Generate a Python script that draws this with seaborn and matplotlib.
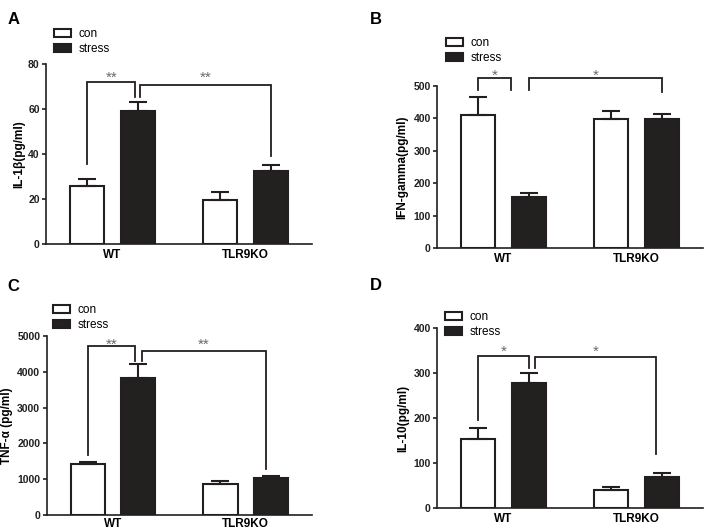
import numpy as np
import pandas as pd
import matplotlib
matplotlib.use("Agg")
import matplotlib.pyplot as plt
import seaborn as sns

# ---------------- data ----------------
genotypes = ["WT", "TLR9KO"]
conditions = ["con", "stress"]

a_con = [25.9, 19.4]
a_stress = [59.0, 32.3]
a_con_err = [2.8, 3.7]
a_stress_err = [4.3, 2.8]

b_con = [410, 397]
b_stress = [159, 397]
b_con_err = [57, 27]
b_stress_err = [12, 16]

c_con = [1415, 875]
c_stress = [3818, 1024]
c_con_err = [75, 75]
c_stress_err = [390, 56]

d_con = [155, 40]
d_stress = [278, 70]
d_con_err = [23, 7.4]
d_stress_err = [23, 7.4]

ylabels = ["IL-1β(pg/ml)", "IFN-gamma(pg/ml)", "TNF-α (pg/ml)", "IL-10(pg/ml)"]
panel_letters = ["A", "B", "C", "D"]
yticks_list = [[0, 20, 40, 60, 80], [0, 100, 200, 300, 400, 500],
               [0, 1000, 2000, 3000, 4000, 5000], [0, 100, 200, 300, 400]]

# significance brackets: (left leg bottom, top, right leg bottom, star centre y, label)
a_brackets = [(35.7, 72.0, 65.3, 75.4, "**"), (65.3, 70.5, 39.0, 75.4, "**")]
b_brackets = [(488, 526, 488, 544, "*"), (488, 526, 483, 544, "*")]
c_brackets = [(1676, 4720, 4311, 4860, "**"), (4311, 4590, 1284, 4860, "**")]
d_brackets = [(196, 339, 311, 355.6, "*"), (311, 336, 120, 355.6, "*")]

# ---------------- layout ----------------
W, H = 704, 531
plt.rcParams["font.family"] = ["Liberation Sans", "DejaVu Sans"]
fig = plt.figure(figsize=(W / 100, H / 100), dpi=100)

# axes rectangles in pixels: left, top, right, bottom
rects = [(46, 64, 312, 244), (437, 86, 703, 248.3),
         (46.5, 336, 312, 515), (437, 328.3, 703, 508.3)]
legend_pos = [(54, 28), (446, 37), (53, 304), (445, 311)]
letter_pos = [(8, 12), (370, 12), (7, 279), (370, 278)]
ylabel_right = [25, 408, 13, 409]
xtick_pad = [3.5, 3.5, 2, 3.5]
# x offsets of bracket legs relative to bar centers (left, right) per bracket
leg_offsets = [[(0, -0.02), (0.02, 0)], [(0, -0.13), (0, 0)],
               [(0, -0.02), (0.03, -0.04)], [(0, 0.005), (0.045, -0.04)]]

datasets = [
    (a_con, a_stress, a_con_err, a_stress_err, a_brackets),
    (b_con, b_stress, b_con_err, b_stress_err, b_brackets),
    (c_con, c_stress, c_con_err, c_stress_err, c_brackets),
    (d_con, d_stress, d_con_err, d_stress_err, d_brackets),
]

dark = "#231f20"
lw = 1.5
star_size = 11

for i, (con, stress, con_err, stress_err, brackets) in enumerate(datasets):
    l, t, r, b = rects[i]
    ax = fig.add_axes([l / W, 1 - b / H, (r - l) / W, (b - t) / H])
    df = pd.DataFrame({
        "genotype": genotypes * 2,
        "condition": [conditions[0]] * 2 + [conditions[1]] * 2,
        "value": list(con) + list(stress),
    })
    sns.barplot(data=df, x="genotype", y="value", hue="condition",
                order=genotypes, hue_order=conditions,
                palette={"con": "white", "stress": dark},
                edgecolor=dark, linewidth=lw, width=0.76, gap=0.32,
                errorbar=None, ax=ax)

    # bar centers from seaborn containers
    centers = []
    for cont in ax.containers[:2]:
        centers.append([p.get_x() + p.get_width() / 2 for p in cont.patches])
    con_x, stress_x = centers

    ax.errorbar(con_x, con, yerr=[np.zeros(2), con_err], fmt="none",
                ecolor=dark, elinewidth=lw, capsize=6.5, capthick=lw, zorder=1)
    ax.errorbar(stress_x, stress, yerr=[np.zeros(2), stress_err], fmt="none",
                ecolor=dark, elinewidth=lw, capsize=6.5, capthick=lw, zorder=1)

    # brackets: first WT con -> WT stress, second WT stress -> TLR9KO stress
    pairs = [(con_x[0], stress_x[0]), (stress_x[0], stress_x[1])]
    for j, (yl, yt, yr, ys, lab) in enumerate(brackets):
        x0 = pairs[j][0] + leg_offsets[i][j][0]
        x1 = pairs[j][1] + leg_offsets[i][j][1]
        ax.plot([x0, x0, x1, x1], [yl, yt, yt, yr], color=dark, lw=1.3,
                clip_on=False, solid_joinstyle="miter")
        ax.annotate(lab, ((x0 + x1) / 2, ys), xytext=(0, -0.5 * star_size),
                    textcoords="offset points", ha="center", va="baseline",
                    fontsize=star_size, color="#6a6a6a", annotation_clip=False)

    yt_ = yticks_list[i]
    ax.set_ylim(0, yt_[-1])
    ax.set_xlim(-0.5, 1.5)
    ax.set_yticks(yt_)
    ax.set_yticklabels([str(v) for v in yt_], fontsize=7.5, fontweight="bold")
    ax.set_xticks([0, 1])
    ax.set_xticklabels(genotypes, fontsize=8.5, fontweight="bold")
    ax.tick_params(axis="y", direction="out", length=3, width=1.2, pad=1.5,
                   colors=dark)
    ax.tick_params(axis="x", length=0, pad=xtick_pad[i])
    ax.set_xlabel("")
    ax.set_ylabel(ylabels[i], fontsize=8.5, fontweight="bold")
    ax.yaxis.set_label_coords((ylabel_right[i] - l) / (r - l), 0.5)
    for s in ["top", "right"]:
        ax.spines[s].set_visible(False)
    for s in ["left", "bottom"]:
        ax.spines[s].set_linewidth(1.2)
        ax.spines[s].set_color(dark)

    h, lbl = ax.get_legend_handles_labels()
    if ax.get_legend() is not None:
        ax.get_legend().remove()
    lx, ly = legend_pos[i]
    ax.legend(h, lbl, loc="upper left", bbox_to_anchor=(lx / W, 1 - ly / H),
              bbox_transform=fig.transFigure, frameon=False, fontsize=8.5,
              handlelength=1.45, handleheight=0.7, handletextpad=0.65,
              labelspacing=0.25, borderpad=0, borderaxespad=0)

    px, py = letter_pos[i]
    fig.text(px / W, 1 - py / H, panel_letters[i], fontsize=12,
             fontweight="bold", ha="left", va="top")

fig.savefig("out.png", dpi=100)
